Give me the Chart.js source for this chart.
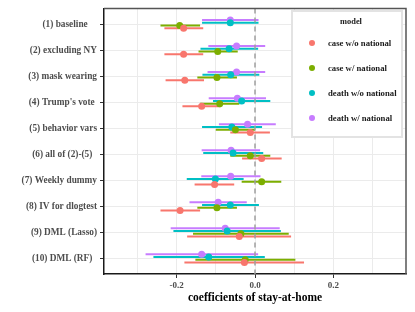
<!DOCTYPE html>
<html>
<head>
<meta charset="utf-8">
<script src="https://cdn.jsdelivr.net/npm/chart.js@4.4.1/dist/chart.umd.min.js"></script>
<style>
  body { margin: 0; background: #fff; }
  #wrap { position: relative; width: 415px; height: 312px; }
  #legend { position: absolute; left: 291px; top: 10px; width: 108px; height: 124px;
            background: #fff; border: 2px solid #e3e3e3; font-family: 'Liberation Serif', serif;
            font-weight: bold; color: #1a1a1a; }
  #legend .ttl { position: absolute; left: 0; width: 108px; text-align: center; top: 5px; font-size: 8.4px; padding-left: 4px; }
  #legend .dot { position: absolute; width: 6.6px; height: 6.6px; border-radius: 50%; }
  #legend .lbl { position: absolute; font-size: 8.7px; white-space: nowrap; line-height: 10px; }
</style>
</head>
<body>
<div id="wrap">
  <canvas id="c" width="415" height="312"></canvas>
  <div id="legend"></div>
</div>
<script>
// categories (top to bottom), trailing spaces as in the original labels
const categories = ['(1) baseline    ', '(2) excluding NY', '(3) mask wearing', "(4) Trump's vote ",
  '(5) behavior vars', '(6) all of (2)-(5)  ', '(7) Weekly dummy', '(8) IV for dlogtest',
  '(9) DML (Lasso)', '(10) DML (RF)  '];

const modelNames = ['case w/o national', 'case w/ national', 'death w/o national', 'death w/ national'];
const modelColors = ['#F8766D', '#7CAE00', '#00BFC4', '#C77CFF'];

// estimates and intervals
const caseWoEst = [-0.182, -0.182, -0.179, -0.136, -0.012, 0.017, -0.103, -0.191, -0.040, -0.027];
const caseWoLo  = [-0.231, -0.231, -0.228, -0.185, -0.063, -0.033, -0.154, -0.241, -0.173, -0.180];
const caseWoHi  = [-0.132, -0.132, -0.130, -0.087, 0.038, 0.068, -0.053, -0.140, 0.092, 0.125];

const caseWEst = [-0.192, -0.095, -0.097, -0.090, -0.050, -0.012, 0.017, -0.097, -0.036, -0.025];
const caseWLo  = [-0.241, -0.144, -0.147, -0.140, -0.100, -0.063, -0.034, -0.147, -0.158, -0.152];
const caseWHi  = [-0.140, -0.044, -0.046, -0.040, 0.000, 0.039, 0.067, -0.046, 0.086, 0.103];

const deathWoEst = [-0.063, -0.066, -0.062, -0.034, -0.059, -0.056, -0.101, -0.063, -0.071, -0.118];
const deathWoLo  = [-0.135, -0.139, -0.134, -0.107, -0.135, -0.132, -0.174, -0.135, -0.208, -0.259];
const deathWoHi  = [0.009, 0.008, 0.011, 0.039, 0.018, 0.021, -0.029, 0.010, 0.066, 0.025];

const deathWEst = [-0.063, -0.047, -0.047, -0.045, -0.019, -0.061, -0.062, -0.094, -0.076, -0.136];
const deathWLo  = [-0.135, -0.119, -0.121, -0.118, -0.092, -0.136, -0.137, -0.167, -0.215, -0.279];
const deathWHi  = [0.009, 0.026, 0.026, 0.028, 0.053, 0.013, 0.014, -0.021, 0.063, 0.008];

const xTicks = [-0.3, -0.2, -0.1, 0, 0.1, 0.2, 0.3];
const xTickLabels = { '-0.2': '-0.2', '0': '0.0', '0.2': '0.2' };

const est = [caseWoEst, caseWEst, deathWoEst, deathWEst];
const lo = [caseWoLo, caseWLo, deathWoLo, deathWLo];
const hi = [caseWoHi, caseWHi, deathWoHi, deathWHi];
// dodge: red lowest, purple highest within a row
const dodge = [0.158, 0.053, -0.053, -0.158];

const datasets = [];
for (let s = 0; s < 4; s++) {
  for (let i = 0; i < categories.length; i++) {
    const y = i + 1 + dodge[s];
    datasets.push({
      type: 'line', data: [{ x: lo[s][i], y: y }, { x: hi[s][i], y: y }],
      borderColor: modelColors[s], borderWidth: 2, pointRadius: 0, order: 10
    });
  }
}
for (let s = 0; s < 4; s++) {
  datasets.push({
    type: 'scatter', label: modelNames[s],
    data: est[s].map((v, i) => ({ x: v, y: i + 1 + dodge[s] })),
    backgroundColor: modelColors[s], pointRadius: 3.5, pointBorderWidth: 0, order: 1
  });
}

const panelPlugin = {
  id: 'panel',
  afterDatasetsDraw(chart) {
    const ctx = chart.ctx, a = chart.chartArea, x0 = chart.scales.x.getPixelForValue(0);
    ctx.save();
    ctx.strokeStyle = '#a0a0a0';
    ctx.lineWidth = 1.5;
    ctx.setLineDash([5, 4]);
    ctx.beginPath(); ctx.moveTo(x0, a.top); ctx.lineTo(x0, a.bottom); ctx.stroke();
    ctx.setLineDash([]);
    ctx.strokeStyle = '#555';
    ctx.lineWidth = 1.5;
    ctx.beginPath(); ctx.moveTo(a.left, a.top); ctx.lineTo(a.right, a.top); ctx.lineTo(a.right, a.bottom); ctx.stroke();
    ctx.restore();
  }
};

const serif = 'Liberation Serif';
new Chart(document.getElementById('c'), {
  type: 'scatter',
  data: { datasets },
  options: {
    responsive: false, animation: false, devicePixelRatio: 1,
    layout: { padding: { top: 8, right: 9, left: 0, bottom: 0 } },
    plugins: { legend: { display: false }, tooltip: { enabled: false } },
    scales: {
      x: {
        type: 'linear', min: -0.385, max: 0.385,
        afterBuildTicks: (sc) => { sc.ticks = xTicks.map(v => ({ value: v })); },
        afterFit: (sc) => { sc.height = 38; },
        grid: {
          color: '#ebebeb', lineWidth: 1, tickLength: 4,
          tickColor: (c) => (xTickLabels[String(c.tick && c.tick.value)] ? '#333' : 'rgba(0,0,0,0)')
        },
        border: { color: '#1a1a1a', width: 1.5 },
        ticks: {
          padding: 2, color: '#4d4d4d', maxRotation: 0, autoSkip: false,
          font: { family: serif, weight: 'bold', size: 9 },
          callback: (v) => xTickLabels[String(Math.round(v * 10) / 10)] || ''
        },
        title: {
          display: true, text: 'coefficients of stay-at-home', color: '#000',
          font: { family: serif, weight: 'bold', size: 11.5 }, padding: { top: 0, bottom: 7 }
        }
      },
      y: {
        type: 'linear', reverse: true, min: 0.4, max: 10.6,
        afterBuildTicks: (sc) => { sc.ticks = categories.map((c, i) => ({ value: i + 1 })); },
        afterFit: (sc) => { sc.width = 104; },
        grid: { color: '#ebebeb', lineWidth: 1, tickLength: 4, tickColor: '#333' },
        border: { color: '#1a1a1a', width: 1.5 },
        ticks: {
          padding: 3, color: '#4d4d4d', autoSkip: false,
          font: { family: serif, weight: 'bold', size: 9.3 },
          callback: (v) => categories[Math.round(v) - 1]
        }
      }
    }
  },
  plugins: [panelPlugin]
});

// legend box
const lg = document.getElementById('legend');
lg.innerHTML = '<div class="ttl">model</div>';
modelNames.forEach((n, k) => {
  const cy = 31 + k * 25;
  lg.innerHTML += '<div class="dot" style="left:15.5px;top:' + (cy - 3.3) + 'px;background:' + modelColors[k] + '"></div>' +
    '<div class="lbl" style="left:35px;top:' + (cy - 5.5) + 'px">' + n + '</div>';
});
</script>
</body>
</html>
